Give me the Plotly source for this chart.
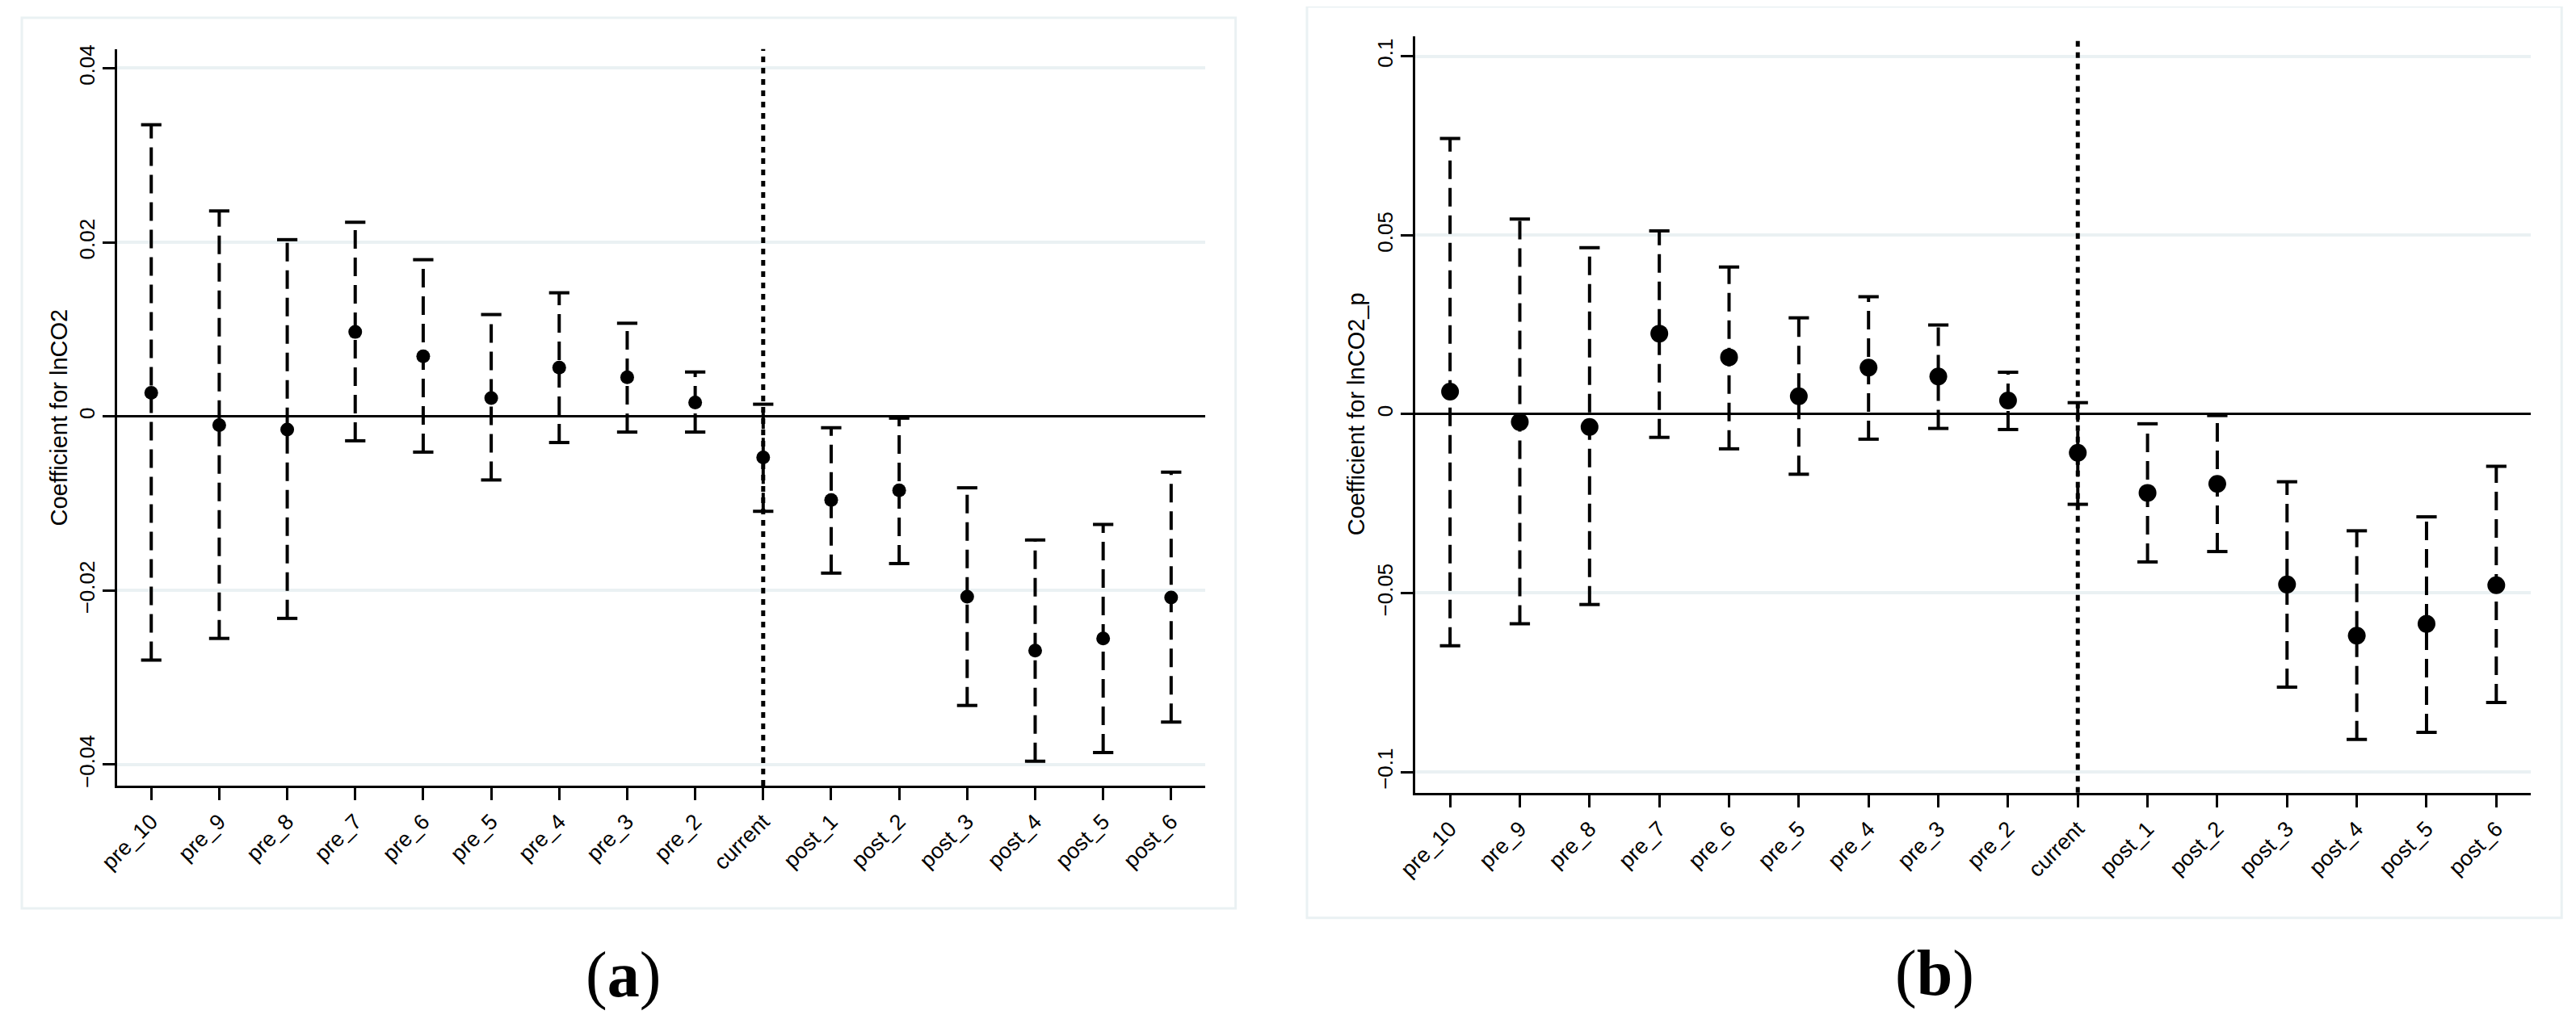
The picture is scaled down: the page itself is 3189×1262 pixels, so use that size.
import plotly.graph_objects as go

W, H = 3189, 1262

categories = ["pre_10", "pre_9", "pre_8", "pre_7", "pre_6", "pre_5", "pre_4", "pre_3",
              "pre_2", "current", "post_1", "post_2", "post_3", "post_4", "post_5", "post_6"]

# Panel (a): coefficient for lnCO2
coef_a = [0.0027, -0.0010, -0.0015, 0.0097, 0.0069, 0.0021, 0.0056, 0.0045,
          0.0016, -0.0047, -0.0096, -0.0085, -0.0207, -0.0269, -0.0255, -0.0208]
upper_a = [0.0335, 0.0236, 0.0203, 0.0223, 0.0180, 0.0117, 0.0142, 0.0107,
           0.0051, 0.0014, -0.0013, -0.0002, -0.0082, -0.0142, -0.0124, -0.0064]
lower_a = [-0.0280, -0.0255, -0.0232, -0.0028, -0.0041, -0.0073, -0.0030, -0.0018,
           -0.0018, -0.0109, -0.0180, -0.0169, -0.0332, -0.0396, -0.0386, -0.0351]
yticks_a = [0.04, 0.02, 0, -0.02, -0.04]
yticklabels_a = ["0.04", "0.02", "0", "\u22120.02", "\u22120.04"]

# Panel (b): coefficient for lnCO2_p
coef_b = [0.0063, -0.0022, -0.0036, 0.0225, 0.0159, 0.0050, 0.0130, 0.0105,
          0.0038, -0.0108, -0.0220, -0.0195, -0.0476, -0.0619, -0.0586, -0.0478]
upper_b = [0.0770, 0.0545, 0.0465, 0.0512, 0.0411, 0.0269, 0.0328, 0.0249,
           0.0117, 0.0032, -0.0027, -0.0004, -0.0189, -0.0326, -0.0287, -0.0146]
lower_b = [-0.0647, -0.0586, -0.0532, -0.0065, -0.0097, -0.0168, -0.0070, -0.0040,
           -0.0043, -0.0252, -0.0413, -0.0384, -0.0763, -0.0909, -0.0889, -0.0806]
yticks_b = [0.1, 0.05, 0, -0.05, -0.1]
yticklabels_b = ["0.1", "0.05", "0", "\u22120.05", "\u22120.1"]

ytitle_a = "Coefficient for lnCO2"
ytitle_b = "Coefficient for lnCO2_p"
event_category = "current"

xpos = list(range(len(categories)))

FONT = "Liberation Sans, Arial, Helvetica, sans-serif"
GRID = "#eaf1f3"


def px_x(p):
    return p / W


def px_y(p):
    return 1 - p / H


fig = go.Figure()


def add_panel(coef, lo, hi, xa, ya, msize):
    lx, ly = [], []
    for i in xpos:
        lx += [i, i, None]
        ly += [lo[i], hi[i], None]
    fig.add_trace(go.Scatter(x=lx, y=ly, mode="lines", xaxis=xa, yaxis=ya,
                             line=dict(color="black", width=4, dash="23px,11px"),
                             hoverinfo="skip", showlegend=False))
    fig.add_trace(go.Scatter(x=xpos + xpos, y=list(lo) + list(hi), mode="markers",
                             xaxis=xa, yaxis=ya,
                             marker=dict(symbol="line-ew", size=18, color="black",
                                         line=dict(color="black", width=4)),
                             hoverinfo="skip", showlegend=False))
    fig.add_trace(go.Scatter(x=xpos, y=coef, mode="markers", xaxis=xa, yaxis=ya,
                             marker=dict(symbol="circle", size=msize, color="black"),
                             showlegend=False))


add_panel(coef_a, lower_a, upper_a, "x", "y", 17)
add_panel(coef_b, lower_b, upper_b, "x2", "y2", 22)

xaxis_common = dict(
    tickmode="array", tickvals=xpos, ticktext=categories, tickangle=-45,
    range=[-0.5, len(categories) - 0.5], showgrid=False, zeroline=False,
    showline=True, linecolor="black", linewidth=3,
    ticks="outside", ticklen=15, tickwidth=3, tickcolor="black",
    tickfont=dict(family=FONT, size=27, color="black"),
)
yaxis_common = dict(
    tickmode="array", tickangle=-90, showgrid=True, gridcolor=GRID, gridwidth=4,
    zeroline=True, zerolinecolor="black", zerolinewidth=3,
    showline=True, linecolor="black", linewidth=3,
    ticks="outside", ticklen=15, tickwidth=3, tickcolor="black",
    tickfont=dict(family=FONT, size=26, color="black"),
)

fig.update_layout(
    width=W, height=H, margin=dict(l=0, r=0, t=0, b=0),
    paper_bgcolor="white", plot_bgcolor="white", showlegend=False,
    xaxis=dict(xaxis_common, domain=[px_x(114), px_x(1471)], anchor="y"),
    yaxis=dict(yaxis_common, domain=[px_y(966), px_y(48)], anchor="x",
               range=[-0.0424, 0.0422], tickvals=yticks_a, ticktext=yticklabels_a),
    xaxis2=dict(xaxis_common, domain=[px_x(1733), px_x(3125)], anchor="y2"),
    yaxis2=dict(yaxis_common, domain=[px_y(975), px_y(32)], anchor="x2",
                range=[-0.1058, 0.1056], tickvals=yticks_b, ticktext=yticklabels_b),
)

ev = categories.index(event_category)
shapes = [
    dict(type="rect", xref="paper", yref="paper", x0=px_x(-5), x1=px_x(1509),
         y0=px_y(1119), y1=px_y(9), line=dict(color=GRID, width=3), layer="below"),
    dict(type="rect", xref="paper", yref="paper", x0=px_x(1598), x1=px_x(3163),
         y0=px_y(1131), y1=px_y(-5), line=dict(color=GRID, width=3), layer="below"),
    dict(type="line", xref="x", yref="y domain", x0=ev, x1=ev, y0=0, y1=1,
         line=dict(color="black", width=5, dash="7px,7px")),
    dict(type="line", xref="x2", yref="y2 domain", x0=ev, x1=ev, y0=0, y1=1,
         line=dict(color="black", width=5, dash="7px,7px")),
]
fig.update_layout(shapes=shapes)

annotations = [
    dict(text=ytitle_a, xref="paper", yref="paper", x=px_x(41), y=px_y(507),
         textangle=-90, showarrow=False, xanchor="center", yanchor="middle",
         font=dict(family=FONT, size=29, color="black")),
    dict(text=ytitle_b, xref="paper", yref="paper", x=px_x(1659), y=px_y(503),
         textangle=-90, showarrow=False, xanchor="center", yanchor="middle",
         font=dict(family=FONT, size=29, color="black")),
    dict(text="(<b>a</b>)", xref="paper", yref="paper", x=px_x(745), y=px_y(1202),
         showarrow=False, xanchor="center", yanchor="middle",
         font=dict(family="Liberation Serif, Times New Roman, serif", size=80, color="black")),
    dict(text="(<b>b</b>)", xref="paper", yref="paper", x=px_x(2381), y=px_y(1200),
         showarrow=False, xanchor="center", yanchor="middle",
         font=dict(family="Liberation Serif, Times New Roman, serif", size=80, color="black")),
]
fig.update_layout(annotations=annotations)

fig.write_html("out.html")
